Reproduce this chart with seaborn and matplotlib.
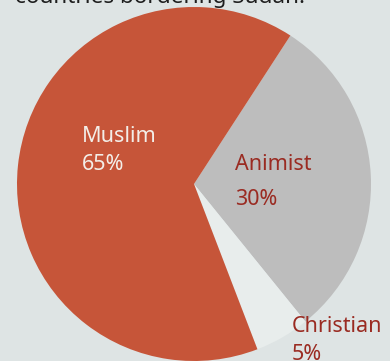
import matplotlib
matplotlib.use("Agg")
import matplotlib.pyplot as plt
import seaborn as sns

# Data
categories = ["Animist", "Christian", "Muslim"]
shares = [30, 5, 65]
pct_labels = ["30%", "5%", "65%"]
title_text = "countries bordering Sudan."

sns.set_theme(style="white")
plt.rcParams["font.family"] = ["Noto Sans", "DejaVu Sans"]

BG = "#DEE4E4"
RED = "#C65539"
GREY = "#BDBDBD"
GAP = "#E8EDEC"
LABEL_RED = "#9A2B22"

fig = plt.figure(figsize=(3.90, 3.61), dpi=100, facecolor=BG)
ax = fig.add_axes([0, 0, 1, 1])
ax.set_facecolor(BG)

slice_colors = [GREY, GAP, RED]
ax.pie(shares, colors=slice_colors, startangle=57, counterclock=False,
       radius=1.0, center=(0, 0), wedgeprops=dict(linewidth=0))

R = 177.0
cx, cy = 194.0, 184.0
ax.set_xlim(-cx / R, (390 - cx) / R)
ax.set_ylim(-(361 - cy) / R, cy / R)
ax.set_aspect("auto")
ax.axis("off")

def px(x, y):
    return (x - cx) / R, (cy - y) / R

fs = 15.5
# Muslim
x, y = px(82, 142)
ax.text(x, y, categories[2], color="#F3EEE8", fontsize=fs, ha="left", va="baseline")
x, y = px(82, 170)
ax.text(x, y, pct_labels[2], color="#F3EEE8", fontsize=fs, ha="left", va="baseline")
# Animist
x, y = px(235, 170)
ax.text(x, y, categories[0], color=LABEL_RED, fontsize=fs, ha="left", va="baseline")
x, y = px(235, 205)
ax.text(x, y, pct_labels[0], color=LABEL_RED, fontsize=fs, ha="left", va="baseline")
# Christian
x, y = px(292, 332)
ax.text(x, y, categories[1], color=LABEL_RED, fontsize=fs, ha="left", va="baseline")
x, y = px(292, 360)
ax.text(x, y, pct_labels[1], color=LABEL_RED, fontsize=fs, ha="left", va="baseline")

# Cropped title at top
fig.text(15 / 390, 1 - 3 / 361, title_text, color="#1E1E1E", fontsize=16.2,
         ha="left", va="baseline")

fig.savefig("out.png", dpi=100, facecolor=BG)
